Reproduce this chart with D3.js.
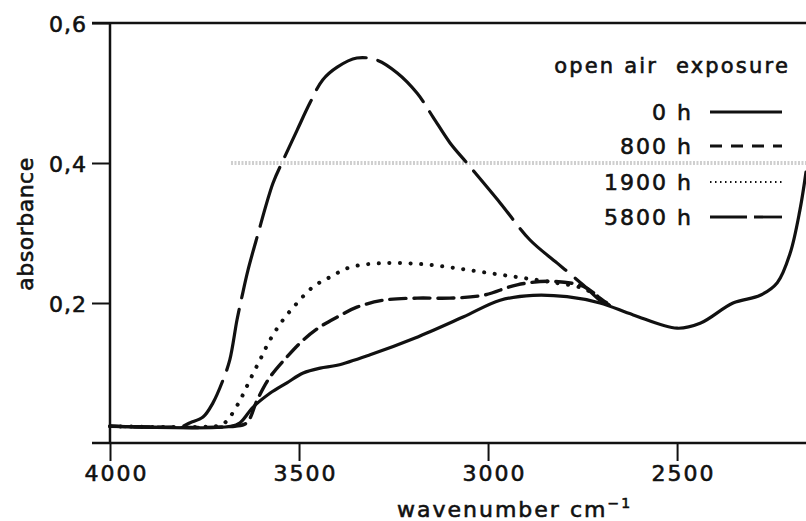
<!DOCTYPE html>
<html>
<head>
<meta charset="utf-8">
<script src="https://cdn.jsdelivr.net/npm/d3@7"></script>
<style>
  body { margin: 0; background: #fff; }
  svg text { font-family: "DejaVu Sans", sans-serif; fill: #111; stroke: #111; stroke-width: 0.6px; }
</style>
</head>
<body>
<script>
// absorbance, [wavenumber, absorbance]
const series0h = [
  [4000, 0.024], [3680, 0.024], [3656, 0.029], [3622, 0.051], [3577, 0.071],
  [3532, 0.086], [3489, 0.100], [3444, 0.107], [3399, 0.111], [3312, 0.126],
  [3193, 0.150], [3066, 0.180], [2968, 0.204], [2881, 0.211], [2791, 0.209],
  [2704, 0.200], [2616, 0.183], [2500, 0.164], [2439, 0.171], [2352, 0.200],
  [2280, 0.211], [2235, 0.229], [2201, 0.271], [2175, 0.333], [2159, 0.387]
];
const series800h = [
  [4000, 0.024], [3670, 0.024], [3638, 0.029], [3611, 0.061], [3577, 0.094],
  [3532, 0.123], [3489, 0.147], [3444, 0.166], [3399, 0.180], [3347, 0.194],
  [3278, 0.204], [3188, 0.207], [3101, 0.207], [3013, 0.211], [2923, 0.226],
  [2836, 0.231], [2749, 0.224], [2704, 0.207], [2680, 0.197]
];
const series1900h = [
  [4000, 0.024], [3720, 0.024], [3701, 0.027], [3683, 0.037], [3656, 0.061],
  [3630, 0.090], [3603, 0.119], [3577, 0.147], [3542, 0.176], [3505, 0.200],
  [3463, 0.223], [3418, 0.237], [3365, 0.251], [3278, 0.257], [3188, 0.256],
  [3101, 0.251], [3013, 0.244], [2923, 0.237], [2836, 0.230], [2749, 0.221],
  [2704, 0.207], [2680, 0.197]
];
const series5800h = [
  [4000, 0.024], [3810, 0.024], [3788, 0.029], [3754, 0.037], [3728, 0.057],
  [3701, 0.090], [3683, 0.119], [3664, 0.176], [3651, 0.209], [3635, 0.247],
  [3611, 0.294], [3569, 0.371], [3542, 0.404], [3505, 0.447], [3471, 0.486],
  [3437, 0.519], [3399, 0.537], [3347, 0.550], [3294, 0.547], [3241, 0.529],
  [3188, 0.500], [3146, 0.466], [3101, 0.429], [3056, 0.400], [2968, 0.343],
  [2889, 0.290], [2817, 0.257], [2749, 0.226], [2704, 0.204], [2680, 0.197]
];
const legendLabels = ["0 h", "800 h", "1900 h", "5800 h"];
const xTicks = [4000, 3500, 3000, 2500];
const yTicks = [0.2, 0.4, 0.6];

const width = 806, height = 521;
const tick = 18;

const svg = d3.select("body").append("svg")
  .attr("width", width)
  .attr("height", height);

const x = d3.scaleLinear().domain([4000, 2159]).range([110, 806]);
const y = d3.scaleLinear().domain([0, 0.6]).range([443, 23]);

// scan noise band along the 0.4 level
svg.append("line")
  .attr("x1", x(3680)).attr("x2", width)
  .attr("y1", y(0.4)).attr("y2", y(0.4))
  .attr("stroke", "#cfcfcf")
  .attr("stroke-width", 4)
  .attr("stroke-dasharray", "2,1.5");

// axes
const xAxis = svg.append("g")
  .attr("transform", `translate(0,${y(0)})`)
  .call(d3.axisBottom(x).tickValues(xTicks).tickSize(tick).tickSizeOuter(0).tickPadding(6)
    .tickFormat(d3.format("d")));
xAxis.select(".domain").remove();
xAxis.selectAll("line").attr("stroke", "#111").attr("stroke-width", 2);
xAxis.selectAll("text")
  .attr("font-size", 22)
  .attr("letter-spacing", 2)
  .attr("dx", 6)
  .attr("dy", "0.62em");

const yAxis = svg.append("g")
  .attr("transform", `translate(${x(4000)},0)`)
  .call(d3.axisLeft(y).tickValues(yTicks).tickSize(tick).tickSizeOuter(0).tickPadding(5)
    .tickFormat(d => d3.format(".1f")(d).replace(".", ",")));
yAxis.select(".domain").remove();
yAxis.selectAll("line").attr("stroke", "#111").attr("stroke-width", 2);
yAxis.selectAll("text")
  .attr("font-size", 22)
  .attr("letter-spacing", 1)
  .attr("dy", "0.38em");

// frame lines: left, bottom, top
svg.append("line")
  .attr("x1", x(4000)).attr("x2", x(4000))
  .attr("y1", y(0.6)).attr("y2", y(0))
  .attr("stroke", "#111").attr("stroke-width", 2.5);
svg.append("line")
  .attr("x1", x(4000) - tick).attr("x2", width)
  .attr("y1", y(0)).attr("y2", y(0))
  .attr("stroke", "#111").attr("stroke-width", 2.5);
svg.append("line")
  .attr("x1", x(4000) - tick).attr("x2", width)
  .attr("y1", y(0.6)).attr("y2", y(0.6))
  .attr("stroke", "#111").attr("stroke-width", 2.5);

// axis titles
svg.append("text")
  .attr("transform", "translate(33,224) rotate(-90)")
  .attr("text-anchor", "middle")
  .attr("font-size", 22)
  .attr("letter-spacing", 0.5)
  .text("absorbance");

const xTitle = svg.append("text")
  .attr("x", 397).attr("y", 517)
  .attr("font-size", 22)
  .attr("letter-spacing", 2);
xTitle.append("tspan").text("wavenumber cm");
xTitle.append("tspan").attr("font-size", 14).attr("dy", -9).text("−1");

// curves
const line = d3.line()
  .x(d => x(d[0]))
  .y(d => y(d[1]))
  .curve(d3.curveCatmullRom.alpha(0.5));

const styles = [
  { data: series0h, dash: null, lg: null, w: 3.2 },
  { data: series800h, dash: "16,8", lg: "12,9", w: 3.4 },
  { data: series1900h, dash: "0.1,10.5", lg: "1.5,3.5", w: 4 },
  { data: series5800h, dash: "62,12", lg: "37,7", w: 3.2 }
];

styles.slice().reverse().forEach(s => {
  svg.append("path")
    .datum(s.data)
    .attr("d", line)
    .attr("fill", "none")
    .attr("stroke", "#111")
    .attr("stroke-width", s.w)
    .attr("stroke-linecap", "round")
    .attr("stroke-dasharray", s.dash);
});

// legend
svg.append("text")
  .attr("x", 790).attr("y", 73)
  .attr("text-anchor", "end")
  .attr("font-size", 21)
  .attr("letter-spacing", 2.2)
  .attr("xml:space", "preserve")
  .text("open air  exposure");

const lg = svg.append("g");
const rows = [112, 146, 182, 217];
styles.forEach((s, i) => {
  lg.append("text")
    .attr("x", 693).attr("y", rows[i] + 8)
    .attr("text-anchor", "end")
    .attr("font-size", 22)
    .attr("letter-spacing", 2)
    .text(legendLabels[i]);
  lg.append("line")
    .attr("x1", 710).attr("x2", 782)
    .attr("y1", rows[i]).attr("y2", rows[i])
    .attr("stroke", "#111")
    .attr("stroke-width", i === 2 ? 2 : 2.8)
    .attr("stroke-dasharray", s.lg);
});
</script>
</body>
</html>
